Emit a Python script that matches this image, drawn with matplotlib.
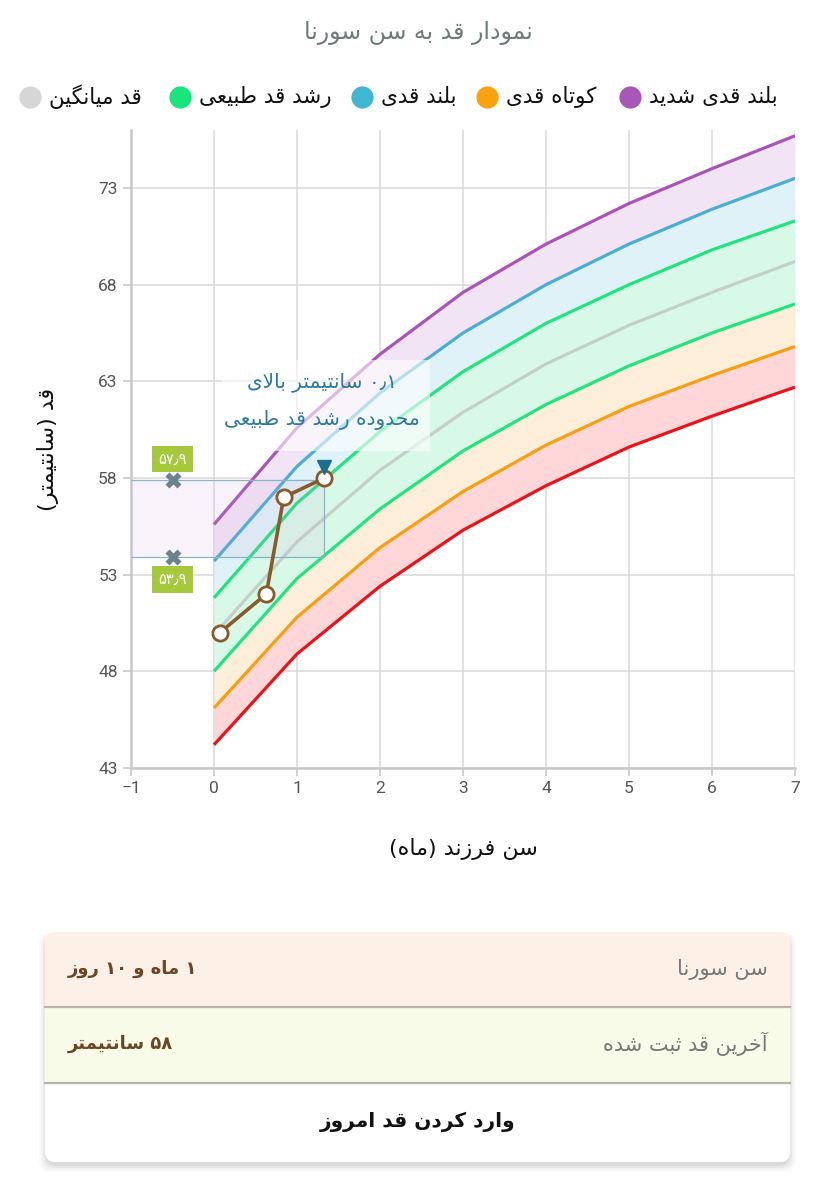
import re
import matplotlib
matplotlib.use('Agg')
import matplotlib.pyplot as plt
from matplotlib.patches import FancyBboxPatch, Rectangle

# ---- data ----
months = [0, 1, 2, 3, 4, 5, 6, 7]
sd_m3 = [44.2, 48.9, 52.4, 55.3, 57.6, 59.6, 61.2, 62.7]   # red
sd_m2 = [46.1, 50.8, 54.4, 57.3, 59.7, 61.7, 63.3, 64.8]   # orange
sd_m1 = [48.0, 52.8, 56.4, 59.4, 61.8, 63.8, 65.5, 67.0]   # green low
median = [49.9, 54.7, 58.4, 61.4, 63.9, 65.9, 67.6, 69.2]  # gray
sd_p1 = [51.8, 56.7, 60.4, 63.5, 66.0, 68.0, 69.8, 71.3]   # green high
sd_p2 = [53.7, 58.6, 62.4, 65.5, 68.0, 70.1, 71.9, 73.5]   # blue
sd_p3 = [55.6, 60.6, 64.4, 67.6, 70.1, 72.2, 74.0, 75.7]   # purple

child_age = [0.07, 0.63, 0.84, 1.33]
child_height = [50.0, 52.0, 57.0, 58.0]

normal_low = 53.9
normal_high = 57.9

x_ticks = [-1, 0, 1, 2, 3, 4, 5, 6, 7]
y_ticks = [43, 48, 53, 58, 63, 68, 73]

legend_names = ['بلند قدی شدید', 'کوتاه قدی', 'بلند قدی', 'رشد قد طبیعی', 'قد میانگین']
legend_colors = ['#a956b9', '#f8a20e', '#3fb7d3', '#18e67b', '#d6d6d6']

# ---- tiny persian shaper (matplotlib has no arabic shaping / bidi) ----
FORMS = {
    'ا': ('\uFE8D', '\uFE8E'), 'آ': ('\uFE81', '\uFE82'),
    'د': ('\uFEA9', '\uFEAA'), 'ر': ('\uFEAD', '\uFEAE'),
    'ز': ('\uFEAF', '\uFEB0'), 'و': ('\uFEED', '\uFEEE'),
    'ب': ('\uFE8F', '\uFE90', '\uFE91', '\uFE92'),
    'ت': ('\uFE95', '\uFE96', '\uFE97', '\uFE98'),
    'ث': ('\uFE99', '\uFE9A', '\uFE9B', '\uFE9C'),
    'ح': ('\uFEA1', '\uFEA2', '\uFEA3', '\uFEA4'),
    'خ': ('\uFEA5', '\uFEA6', '\uFEA7', '\uFEA8'),
    'س': ('\uFEB1', '\uFEB2', '\uFEB3', '\uFEB4'),
    'ش': ('\uFEB5', '\uFEB6', '\uFEB7', '\uFEB8'),
    'ط': ('\uFEC1', '\uFEC2', '\uFEC3', '\uFEC4'),
    'ع': ('\uFEC9', '\uFECA', '\uFECB', '\uFECC'),
    'ف': ('\uFED1', '\uFED2', '\uFED3', '\uFED4'),
    'ق': ('\uFED5', '\uFED6', '\uFED7', '\uFED8'),
    'ل': ('\uFEDD', '\uFEDE', '\uFEDF', '\uFEE0'),
    'م': ('\uFEE1', '\uFEE2', '\uFEE3', '\uFEE4'),
    'ن': ('\uFEE5', '\uFEE6', '\uFEE7', '\uFEE8'),
    'ه': ('\uFEE9', '\uFEEA', '\uFEEB', '\uFEEC'),
    'ی': ('\uFBFC', '\uFBFD', '\uFBFE', '\uFBFF'),
    'ک': ('\uFB8E', '\uFB8F', '\uFB90', '\uFB91'),
    'گ': ('\uFB92', '\uFB93', '\uFB94', '\uFB95'),
}


def shape(s):
    out = []
    i = 0
    while i < len(s):
        c = s[i]
        if c not in FORMS:
            out.append(c)
            i += 1
            continue
        prev = s[i - 1] if i > 0 else None
        join_prev = prev in FORMS and len(FORMS[prev]) == 4
        if c == 'ل' and i + 1 < len(s) and s[i + 1] == 'ا':
            out.append('\uFEFC' if join_prev else '\uFEFB')
            i += 2
            continue
        nxt = s[i + 1] if i + 1 < len(s) else None
        join_next = len(FORMS[c]) == 4 and nxt in FORMS
        f = FORMS[c]
        if join_prev and join_next:
            out.append(f[3])
        elif join_prev:
            out.append(f[1])
        elif join_next:
            out.append(f[2])
        else:
            out.append(f[0])
        i += 1
    return ''.join(out)


def fa(s):
    v = shape(s)[::-1]
    v = re.sub('[۰-۹٫0-9.]+', lambda m: m.group(0)[::-1], v)
    return v.translate(str.maketrans('()', ')('))


FA = ['DejaVu Sans']
NUM = ['Roboto', 'DejaVu Sans']

fig = plt.figure(figsize=(8.35, 12), dpi=100)

# overlay in pixel coordinates for title / legend / card
ov = fig.add_axes([0, 0, 1, 1], zorder=0)
ov.set_xlim(0, 835)
ov.set_ylim(1200, 0)
ov.axis('off')

ov.text(418, 33, fa('نمودار قد به سن سورنا'), ha='center', va='center',
        fontsize=17, color='#6d7c7a', family=FA)

leg_x = [630, 487, 362, 180, 30]
for name, col, cx in zip(legend_names, legend_colors, leg_x):
    ov.plot([cx], [97], 'o', ms=16, color=col, mec='none')
    ov.text(cx + 19, 97, fa(name), ha='left', va='center', fontsize=15.5,
            color='#111111', family=FA)

# ---- card ----
for k, a in enumerate([0.05, 0.04, 0.03, 0.02]):
    ov.add_patch(FancyBboxPatch((45 - k * 2, 934 - k + 2), 745 + k * 4, 230 + k * 3,
                                boxstyle='round,pad=0,rounding_size=12',
                                fc='black', ec='none', alpha=a))
card = FancyBboxPatch((45, 932), 745, 230, boxstyle='round,pad=0,rounding_size=10',
                      fc='white', ec='none')
ov.add_patch(card)
r1 = ov.add_patch(Rectangle((45, 932), 745, 74, fc='#fcf0e7', ec='none'))
r2 = ov.add_patch(Rectangle((45, 1007), 745, 75, fc='#f8fbe7', ec='none'))
r1.set_clip_path(card)
r2.set_clip_path(card)
ov.plot([45, 790], [1007, 1007], color='#b8b4ae', lw=1.6)
ov.plot([45, 790], [1083, 1083], color='#b8b4ae', lw=1.6)
ov.text(768, 969, fa('سن سورنا'), ha='right', va='center', fontsize=15,
        color='#777777', family=FA)
ov.text(68, 969, fa('۱ ماه و ۱۰ روز'), ha='left', va='center', fontsize=13,
        color='#6b4524', family=FA, weight='bold')
ov.text(768, 1044, fa('آخرین قد ثبت شده'), ha='right', va='center', fontsize=15,
        color='#777777', family=FA)
ov.text(68, 1044, fa('۵۸ سانتیمتر'), ha='left', va='center', fontsize=13,
        color='#6b4524', family=FA, weight='bold')
ov.text(418, 1122, fa('وارد کردن قد امروز'), ha='center', va='center', fontsize=14.5,
        color='#111111', family=FA, weight='bold')

# ---- chart ----
ax = fig.add_axes([131 / 835, 1 - 768 / 1200, 664 / 835, 638 / 1200], zorder=1)
ax.set_xlim(-1, 7)
ax.set_ylim(43, 76)

bands = [(sd_m3, sd_m2, '#ffd7d8'), (sd_m2, sd_m1, '#fdeeda'),
         (sd_m1, sd_p1, '#d9f9e8'), (sd_p1, sd_p2, '#dff2f8'),
         (sd_p2, sd_p3, '#f1e4f5')]
for lo, hi, col in bands:
    ax.fill_between(months, lo, hi, color=col, lw=0, zorder=1)

ax.plot(months, median, color='#c5cfca', lw=2.3, zorder=3)
for vals, col in [(sd_m3, '#e8141b'), (sd_m2, '#f5a012'), (sd_m1, '#22e47f'),
                  (sd_p1, '#22e47f'), (sd_p2, '#4aaed2'), (sd_p3, '#a855b7')]:
    ax.plot(months, vals, color=col, lw=2.3, zorder=3, solid_capstyle='butt')

# normal range box for current age
age_now = child_age[-1]
ax.fill_between([-1, age_now], normal_low, normal_high, color='#c8a0dc', alpha=0.12,
                lw=0, zorder=4)
ax.hlines([normal_low, normal_high], -1, age_now, color='#86b5c8', lw=0.9, zorder=4)
ax.vlines(age_now, normal_low, normal_high, color='#86b5c8', lw=0.9, zorder=4)
ax.plot([-0.5, -0.5], [normal_low, normal_high], 'X', ms=11, color='#6c838e',
        mec='none', zorder=5)
ax.annotate(fa('۵۷٫۹'), (-0.5, normal_high), xytext=(0, 15), textcoords='offset points',
            ha='center', va='center', fontsize=10.5, color='white', family=FA,
            bbox=dict(boxstyle='square,pad=0.4', fc='#a5c93b', ec='none'), zorder=6)
ax.annotate(fa('۵۳٫۹'), (-0.5, normal_low), xytext=(0, -16), textcoords='offset points',
            ha='center', va='center', fontsize=10.5, color='white', family=FA,
            bbox=dict(boxstyle='square,pad=0.4', fc='#a5c93b', ec='none'), zorder=6)

# child measurements
ax.plot(child_age, child_height, '-o', color='#8a5a2b', lw=2.6, ms=11, mfc='white',
        mec='#8a5a2b', mew=2, zorder=7)
ax.plot([age_now], [child_height[-1] + 0.55], 'v', ms=10, color='#1d6f8e', zorder=8)

# message
ax.add_patch(Rectangle((0.1, 59.4), 2.5, 4.7, fc='white', ec='none', alpha=0.6, zorder=5))
ax.text(1.3, 62.95, fa('۰٫۱ سانتیمتر بالای'), ha='center', va='center', fontsize=14.5,
        color='#2c7b9c', family=FA, zorder=6)
ax.text(1.3, 61.0, fa('محدوده رشد قد طبیعی'), ha='center', va='center', fontsize=14.5,
        color='#2c7b9c', family=FA, zorder=6)

ax.set_xticks(x_ticks)
ax.set_yticks(y_ticks)
ax.set_xticklabels(['\u22121'] + [str(t) for t in x_ticks[1:]], family=NUM)
ax.set_yticklabels([str(t) for t in y_ticks], family=NUM)
ax.tick_params(labelsize=12.5, colors='#555555', length=6, width=1.2, color='#c8c8c8')
ax.grid(True, color='#d8d8d8', lw=1.1, zorder=0)
ax.set_axisbelow(True)
for s in ['top', 'right']:
    ax.spines[s].set_visible(False)
for s in ['left', 'bottom']:
    ax.spines[s].set_color('#c8c8c8')
    ax.spines[s].set_linewidth(1.8)

ax.set_xlabel(fa('سن فرزند (ماه)'), fontsize=16, family=FA, color='#111111', labelpad=30)
ax.set_ylabel(fa('قد (سانتیمتر)'), fontsize=16, family=FA, color='#111111', labelpad=28)

fig.savefig('out.png', dpi=100)
